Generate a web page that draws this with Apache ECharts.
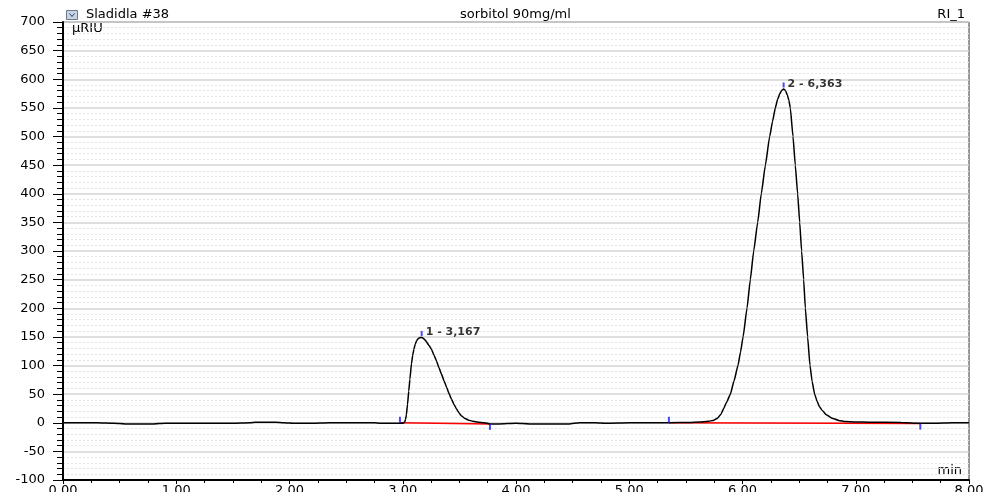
<!DOCTYPE html>
<html>
<head>
<meta charset="utf-8">
<title>sorbitol 90mg/ml</title>
<script src="https://cdn.jsdelivr.net/npm/echarts@6/dist/echarts.min.js"></script>
<style>
  html, body { margin: 0; padding: 0; background: #fff; }
  #chart { width: 986px; height: 492px; }
</style>
</head>
<body>
<div id="chart"></div>
<script>
// Chromatogram: RI detector signal (µRIU) versus retention time (min)
var sampleName = 'Sladidla #38';
var injectionName = 'sorbitol 90mg/ml';
var channelName = 'RI_1';
var signalUnit = 'µRIU';
var timeUnit = 'min';

// Detector trace: retention time (min) and signal (µRIU)
var traceTime = [
  0.00, 0.30, 0.45, 0.55, 0.80, 0.90, 1.20, 1.50, 1.65, 1.70, 1.88, 1.95, 2.05, 2.20, 2.35, 2.75, 2.80, 2.95, 2.99,
  3.008, 3.018, 3.025, 3.032, 3.042, 3.053, 3.063, 3.077, 3.088, 3.098, 3.110, 3.122, 3.134, 3.145, 3.156, 3.167,
  3.178, 3.190, 3.200, 3.210, 3.232, 3.254, 3.276, 3.298,
  3.320, 3.342, 3.365, 3.387, 3.409, 3.431, 3.453, 3.475, 3.497, 3.519, 3.545, 3.577, 3.620, 3.666, 3.720, 3.770,
  3.850, 4.00, 4.12, 4.30, 4.47, 4.56, 4.70, 4.80, 5.00, 5.35, 5.53, 5.62, 5.70, 5.74, 5.78, 5.81, 5.834, 5.86,
  5.893, 5.925, 5.960, 5.983, 6.005, 6.040,
  6.069, 6.099, 6.134, 6.166, 6.202, 6.240, 6.265, 6.290, 6.310, 6.330, 6.345, 6.363, 6.380, 6.395, 6.410, 6.422,
  6.446, 6.466, 6.487, 6.505, 6.522, 6.540, 6.555, 6.575, 6.596, 6.615, 6.637, 6.660, 6.680, 6.702, 6.740, 6.790,
  6.850, 6.908, 7.000, 7.114, 7.40, 7.57, 7.70, 7.85, 8.00
];
var traceSignal = [
  0, 0, -1, -2, -2, -1, -1, -1, 0, 1, 1, 0, -1, -1, 0, 0, -1, -1, -1,
  -0.5, 2, 6, 14, 32, 55, 76, 103, 118, 128, 137, 143, 146.5, 148, 149, 149,
  148, 146, 144, 141, 135, 128, 118, 108,
  96, 85, 73, 62, 51, 41, 32, 24, 17, 12, 8, 5, 2.5, 1, 0, -2,
  -2, -1, -2, -2, -2, 0, 0, -1, 0, 0, 0.5, 1.2, 2.5, 4, 8, 15, 25, 36,
  50, 73, 100, 124, 150, 200,
  250, 300, 350, 400, 450, 500, 526, 550, 565, 575, 580, 583, 580, 573, 563, 550,
  500, 450, 400, 350, 300, 250, 200, 150, 100, 72, 50, 37, 28, 22, 14, 8,
  4, 2, 1.4, 1, 0.5, -1, -1, 0, 0
];

// Integrated peaks
var peakNumber = [1, 2];
var peakApexTime = [3.167, 6.363];
var peakApexSignal = [149, 583];
var peakStartTime = [2.975, 5.35];
var peakStartSignal = [0, 0];
var peakEndTime = [3.77, 7.57];
var peakEndSignal = [-2, -1.5];

// Axis ranges
var timeMin = 0, timeMax = 8, timeStep = 1;
var signalMin = -100, signalMax = 700, signalStep = 50;

var traceData = traceTime.map(function (t, i) { return [t, traceSignal[i]]; });

var baselineSeries = peakNumber.map(function (n, i) {
  return {
    type: 'line',
    name: 'baseline ' + n,
    data: [[peakStartTime[i], peakStartSignal[i]], [peakEndTime[i], peakEndSignal[i]]],
    symbol: 'none',
    lineStyle: { color: '#ff0000', width: 1.5 },
    z: 3,
    silent: true
  };
});

function formatRt(t) { return t.toFixed(3).replace('.', ','); }

var chart = echarts.init(document.getElementById('chart'), null, { renderer: 'canvas' });

var axisFont = 'DejaVu Sans';
var textFont = '13px "DejaVu Sans"';

chart.setOption({
  animation: false,
  backgroundColor: '#ffffff',
  grid: {
    left: 63, right: 17, top: 22, bottom: 12,
    outerBoundsMode: 'none',
    containLabel: false,
    show: true, borderColor: '#333333', borderWidth: 1, backgroundColor: '#ffffff'
  },
  xAxis: {
    type: 'value',
    min: timeMin, max: timeMax, interval: timeStep,
    axisLine: { show: true, onZero: false, lineStyle: { color: '#000', width: 2 } },
    axisTick: { show: true, length: 4, lineStyle: { color: '#000' } },
    minorTick: { show: true, splitNumber: 4, length: 3, lineStyle: { color: '#000' } },
    splitLine: { show: false },
    axisLabel: {
      color: '#000', fontFamily: axisFont, fontSize: 13, margin: 4,
      formatter: function (v) { return v.toFixed(2); }
    }
  },
  yAxis: {
    type: 'value',
    min: signalMin, max: signalMax, interval: signalStep,
    axisLine: { show: true, onZero: false, lineStyle: { color: '#000', width: 2 } },
    axisTick: { show: true, length: 10, lineStyle: { color: '#000' } },
    minorTick: { show: true, splitNumber: 5, length: 6, lineStyle: { color: '#000' } },
    splitLine: { show: true, lineStyle: { color: '#d4d4d4', width: 1.5 } },
    minorSplitLine: { show: true, lineStyle: { color: '#e4e4e4', type: [2, 2], width: 1 } },
    axisLabel: {
      color: '#000', fontFamily: axisFont, fontSize: 13, margin: 18,
      formatter: function (v) { return String(v); }
    }
  },
  series: [
    {
      type: 'line',
      name: channelName,
      data: traceData,
      symbol: 'none',
      smooth: 0.15,
      smoothMonotone: 'x',
      lineStyle: { color: '#000', width: 1.5 },
      z: 4,
      silent: true
    }
  ].concat(baselineSeries).concat([
    {
      type: 'scatter',
      name: 'peak start',
      data: peakStartTime.map(function (t, i) { return [t, peakStartSignal[i]]; }),
      symbol: 'rect',
      symbolSize: [2, 6],
      symbolOffset: [0, -3],
      itemStyle: { color: '#1a1aff' },
      z: 5,
      silent: true
    },
    {
      type: 'scatter',
      name: 'peak end',
      data: peakEndTime.map(function (t, i) { return [t, peakEndSignal[i]]; }),
      symbol: 'rect',
      symbolSize: [2, 6],
      symbolOffset: [0, 3],
      itemStyle: { color: '#1a1aff' },
      z: 5,
      silent: true
    },
    {
      type: 'scatter',
      name: 'peak apex',
      data: peakApexTime.map(function (t, i) { return [t, peakApexSignal[i], peakNumber[i]]; }),
      symbol: 'rect',
      symbolSize: [2, 5],
      symbolOffset: [0, -4],
      itemStyle: { color: '#1a1aff' },
      label: {
        show: true,
        position: 'right',
        distance: 3,
        offset: [0, -1],
        color: '#000',
        fontFamily: axisFont,
        fontWeight: 'bold',
        fontSize: 11,
        formatter: function (p) { return p.value[2] + ' - ' + formatRt(p.value[0]); }
      },
      z: 5,
      silent: true
    }
  ]),
  graphic: [
    {
      type: 'group', left: 66, top: 10,
      children: [
        { type: 'rect', shape: { x: 0, y: 0, width: 11, height: 9 },
          style: { fill: '#c8d4e4', stroke: '#6a7a90', lineWidth: 1 } },
        { type: 'polyline', shape: { points: [[3, 3], [5.5, 6], [8, 3]] },
          style: { fill: null, stroke: '#2a3a60', lineWidth: 1 } }
      ]
    },
    { type: 'text', left: 86, top: 8,
      style: { text: sampleName, font: textFont, fill: '#000' } },
    { type: 'text', left: 460, top: 8,
      style: { text: injectionName, font: textFont, fill: '#000' } },
    { type: 'text', right: 21, top: 8,
      style: { text: channelName, font: textFont, fill: '#000' } },
    { type: 'text', left: 72, top: 22,
      style: { text: signalUnit, font: textFont, fill: '#000' } },
    { type: 'text', right: 24, top: 464,
      style: { text: timeUnit, font: textFont, fill: '#000' } }
  ]
});
</script>
</body>
</html>
